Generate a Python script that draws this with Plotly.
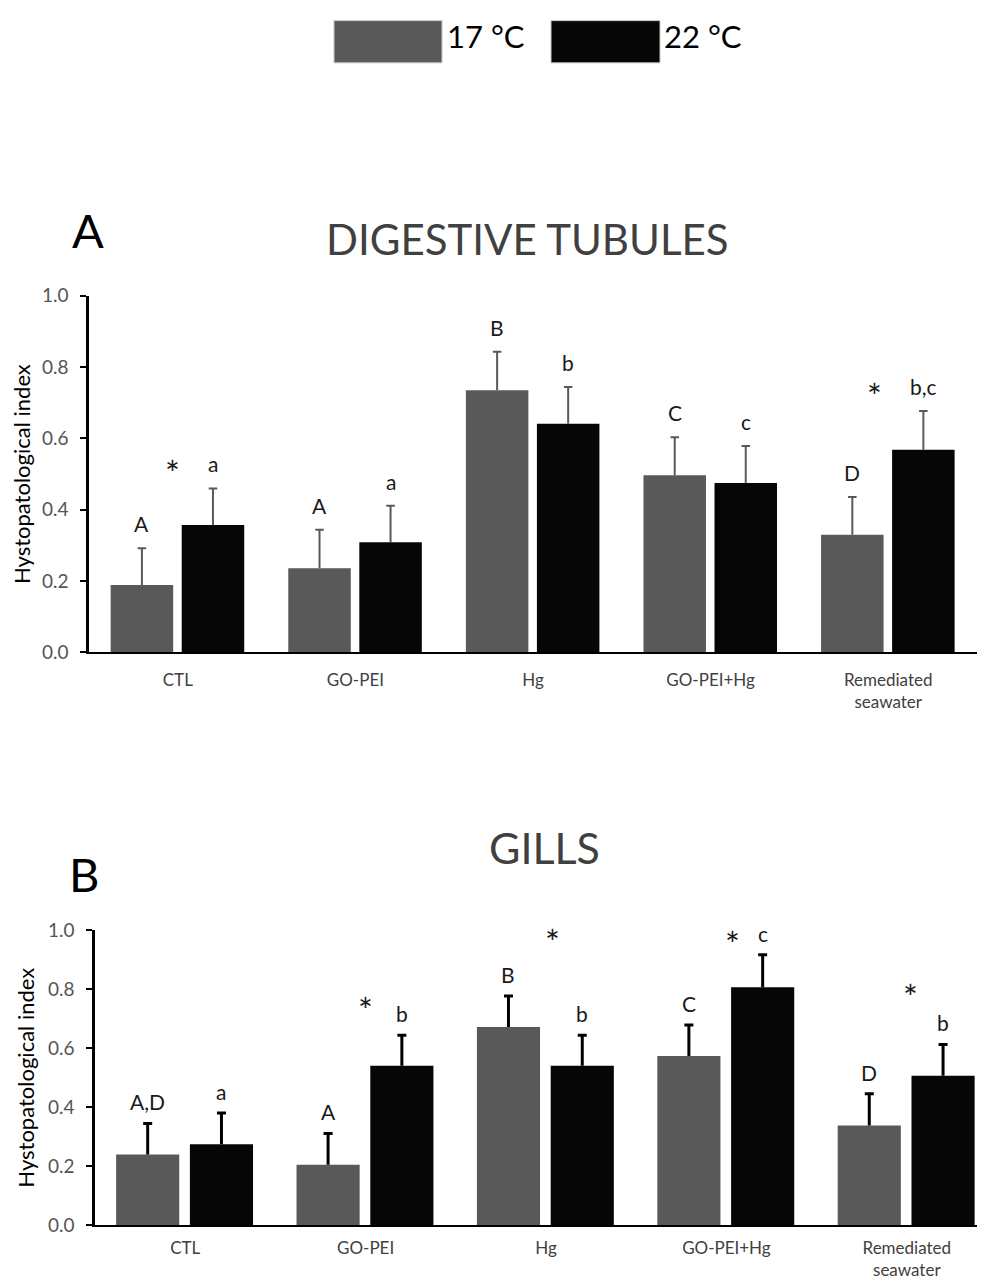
import plotly.graph_objects as go

# ---------------- data ----------------
categories = ["CTL", "GO-PEI", "Hg", "GO-PEI+Hg", "Remediated<br>seawater"]
series_names = ["17 °C", "22 °C"]

# Panel A: digestive tubules
dt_17 = [0.189, 0.236, 0.735, 0.497, 0.330]
dt_17_err = [0.103, 0.108, 0.108, 0.106, 0.106]
dt_22 = [0.357, 0.309, 0.641, 0.475, 0.568]
dt_22_err = [0.103, 0.102, 0.103, 0.104, 0.109]
dt_17_letters = ["A", "A", "B", "C", "D"]
dt_22_letters = ["a", "a", "b", "c", "b,c"]
dt_star_y = [0.528, None, None, None, 0.743]

# Panel B: gills
gi_17 = [0.240, 0.205, 0.672, 0.574, 0.338]
gi_17_err = [0.105, 0.106, 0.105, 0.105, 0.108]
gi_22 = [0.274, 0.541, 0.541, 0.807, 0.507]
gi_22_err = [0.106, 0.103, 0.103, 0.110, 0.106]
gi_17_letters = ["A,D", "A", "B", "C", "D"]
gi_22_letters = ["a", "b", "b", "c", "b"]
gi_star_y = [None, 0.760, 0.990, 0.985, 0.803]

# ---------------- style ----------------
W, H = 985, 1283
C17 = "#595959"
C22 = "#060606"
FONT = "Lato"

# page placement of the figure in the final picture (measured)
X_OFF = 8.0
Y_OFF, Y_SCALE = 18.1, 0.9827


def sx(x):
    """paper x for a target picture x"""
    return (x - X_OFF) / W


def sy(y):
    """paper y for a target picture y"""
    return 1 - ((y - Y_OFF) / Y_SCALE) / H


fig = go.Figure()
idx = list(range(len(categories)))

panels = [
    dict(xa="x", ya="y", v17=dt_17, e17=dt_17_err, v22=dt_22, e22=dt_22_err,
         l17=dt_17_letters, l22=dt_22_letters, star=dt_star_y,
         off17=-0.378, off22=0.022, w=0.352, ecol17=C17, ecol22=C17,
         ethick=2, cap=0.024, lshift=10, star_dx=[-0.028, 0, 0, 0, -0.076]),
    dict(xa="x2", ya="y2", v17=gi_17, e17=gi_17_err, v22=gi_22, e22=gi_22_err,
         l17=gi_17_letters, l22=gi_22_letters, star=gi_star_y,
         off17=-0.383, off22=0.026, w=0.35, ecol17="#000000", ecol22="#000000",
         ethick=3, cap=0.025, lshift=7, star_dx=[0, 0, 0.038, 0.035, 0.022]),
]

annotations = []
for p in panels:
    for name, vals, errs, off, col, ecol, letters in [
        (series_names[0], p["v17"], p["e17"], p["off17"], C17, p["ecol17"], p["l17"]),
        (series_names[1], p["v22"], p["e22"], p["off22"], C22, p["ecol22"], p["l22"]),
    ]:
        fig.add_trace(go.Bar(
            x=idx, y=vals, name=name, width=p["w"], offset=off,
            marker=dict(color=col, line=dict(width=0)),
            xaxis=p["xa"], yaxis=p["ya"], showlegend=False,
        ))
        # upper-only error bars (stem + hat), drawn from the data
        ex, ey = [], []
        for i, (v, e) in enumerate(zip(vals, errs)):
            xc = i + off + p["w"] / 2
            ex += [xc, xc, None, xc - p["cap"], xc + p["cap"], None]
            ey += [v, v + e, None, v + e, v + e, None]
        fig.add_trace(go.Scatter(
            x=ex, y=ey, mode="lines", line=dict(color=ecol, width=p["ethick"]),
            xaxis=p["xa"], yaxis=p["ya"], showlegend=False, hoverinfo="skip",
        ))
        for i, (v, e, t) in enumerate(zip(vals, errs, letters)):
            annotations.append(dict(
                x=i + off + p["w"] / 2, y=v + e, xref=p["xa"], yref=p["ya"],
                text=t, showarrow=False, yanchor="bottom", yshift=p["lshift"],
                font=dict(family=FONT, size=21, color="#1a1a1a"),
            ))
    for i, sy_ in enumerate(p["star"]):
        if sy_ is None:
            continue
        annotations.append(dict(
            x=i + p["star_dx"][i], y=sy_, xref=p["xa"], yref=p["ya"],
            text="*", showarrow=False, yanchor="middle", yshift=-8,
            font=dict(family=FONT, size=35, color="#1a1a1a"),
        ))

# titles and panel letters
annotations += [
    dict(x=sx(527.5), y=sy(237), xref="paper", yref="paper", text="DIGESTIVE TUBULES",
         showarrow=False, xanchor="center", yanchor="middle",
         font=dict(family=FONT, size=42, color="#404040")),
    dict(x=sx(87.5), y=sy(228), xref="paper", yref="paper", text="A",
         showarrow=False, xanchor="center", yanchor="middle",
         font=dict(family=FONT, size=47, color="#000000")),
    dict(x=sx(544), y=sy(846), xref="paper", yref="paper", text="GILLS",
         showarrow=False, xanchor="center", yanchor="middle",
         font=dict(family=FONT, size=43, color="#404040")),
    dict(x=sx(84), y=sy(873), xref="paper", yref="paper", text="B",
         showarrow=False, xanchor="center", yanchor="middle",
         font=dict(family=FONT, size=47, color="#000000")),
    dict(x=sx(445), y=sy(34), xref="paper", yref="paper", text=series_names[0],
         showarrow=False, xanchor="left", yanchor="middle",
         font=dict(family=FONT, size=31, color="#000000")),
    dict(x=sx(662), y=sy(34), xref="paper", yref="paper", text=series_names[1],
         showarrow=False, xanchor="left", yanchor="middle",
         font=dict(family=FONT, size=31, color="#000000")),
]

shapes = [
    dict(type="rect", xref="paper", yref="paper", x0=sx(334), x1=sx(442),
         y0=sy(61), y1=0.9995, fillcolor=C17, line=dict(color="#c8c8c8", width=1)),
    dict(type="rect", xref="paper", yref="paper", x0=sx(551), x1=sx(660),
         y0=sy(61), y1=0.9995, fillcolor=C22, line=dict(color="#c8c8c8", width=1)),
]

xcommon = dict(tickmode="array", tickvals=idx, ticktext=categories,
               showline=True, linecolor="#000000", linewidth=2, ticks="",
               showgrid=False, zeroline=False,
               tickfont=dict(family=FONT, size=17, color="#404040"))
ycommon = dict(range=[0, 1], dtick=0.2, tick0=0, tickformat=".1f",
               showline=True, linecolor="#000000", linewidth=2.5,
               ticks="outside", ticklen=6, tickwidth=2, tickcolor="#000000",
               showgrid=False, zeroline=False, ticklabelstandoff=8,
               tickfont=dict(family=FONT, size=19, color="#555555"),
               title=dict(text="Hystopatological index", standoff=8,
                          font=dict(family=FONT, size=22, color="#000000")))

# category spacing in panel B is 180.4 px; axis runs past the right edge
b_left = 95.0
b_range_end = -0.5 + (W + X_OFF - b_left) / 180.4

fig.update_layout(
    width=W, height=H,
    margin=dict(l=0, r=0, t=0, b=0),
    paper_bgcolor="#ffffff", plot_bgcolor="#ffffff",
    font=dict(family=FONT),
    barmode="overlay",
    xaxis=dict(domain=[sx(89), sx(977)], range=[-0.5, 4.5], anchor="y",
               ticklabelstandoff=11, **xcommon),
    yaxis=dict(domain=[sy(651), sy(294)], anchor="x", **ycommon),
    xaxis2=dict(domain=[sx(b_left), 1.0], range=[-0.5, b_range_end], anchor="y2",
                ticklabelstandoff=6, **xcommon),
    yaxis2=dict(domain=[sy(1224), sy(929)], anchor="x2", **ycommon),
    annotations=annotations,
    shapes=shapes,
)

fig.write_html("out.html")
